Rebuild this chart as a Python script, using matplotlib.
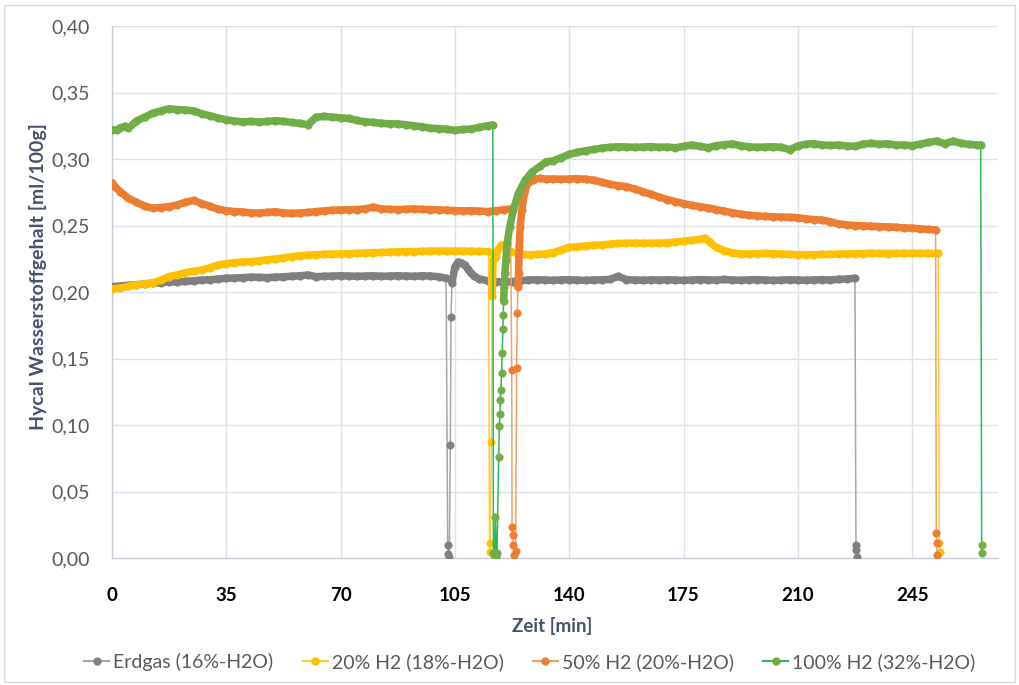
import numpy as np
import matplotlib
matplotlib.use("Agg")
import matplotlib.pyplot as plt
from matplotlib.ticker import FuncFormatter
from matplotlib.patches import Rectangle
from matplotlib.lines import Line2D

plt.rcParams['font.family'] = ['Lato', 'DejaVu Sans']

# ---------------- data ----------------
series_labels = ["Erdgas (16%-H2O)", "20% H2 (18%-H2O)", "50% H2 (20%-H2O)", "100% H2 (32%-H2O)"]

# Erdgas (16%-H2O)
t_erdgas = np.r_[np.arange(0, 101, 2.5),
                 102.3, 102.8, 103.0, 103.3, 103.6, 103.8, 104.1, 105.0, 106.0, 107.0, 108.0,
                 109.0, 110.0, 111.0, 112.5, 115.0, 117.5, 120.0, 122.5, 125.0, 127.5,
                 np.arange(130, 228, 2.5),
                 227.8, 227.9, 228.1]
y_erdgas = [0.2040, 0.2045, 0.2050, 0.2055, 0.2060, 0.2066, 0.2070, 0.2078, 0.2075, 0.2080,
            0.2085, 0.2090, 0.2092, 0.2098, 0.2103, 0.2105, 0.2108, 0.2112, 0.2110, 0.2108,
            0.2112, 0.2115, 0.2118, 0.2122, 0.2128, 0.2115, 0.2118, 0.2120, 0.2122, 0.2120,
            0.2118, 0.2120, 0.2122, 0.2118, 0.2120, 0.2122, 0.2120, 0.2118, 0.2122, 0.2120,
            0.2115,
            0.2103, 0.0098, 0.0030, 0.0010, 0.0850, 0.1810, 0.2070, 0.2190, 0.2225, 0.2220, 0.2205,
            0.2170, 0.2140, 0.2118, 0.2098, 0.2085, 0.2078, 0.2075, 0.2078, 0.2085, 0.2090,
            0.2092, 0.2090, 0.2088, 0.2091, 0.2093, 0.2089, 0.2087, 0.2090, 0.2092, 0.2095,
            0.2118, 0.2093, 0.2090, 0.2088, 0.2091, 0.2089, 0.2092, 0.2090, 0.2087, 0.2090,
            0.2093, 0.2091, 0.2089, 0.2094, 0.2090, 0.2088, 0.2091, 0.2093, 0.2090, 0.2087,
            0.2089, 0.2092, 0.2090, 0.2088, 0.2091, 0.2093, 0.2090, 0.2095, 0.2098, 0.2103,
            0.0098, 0.0060, 0.0010]

# 20% H2 (18%-H2O)
t_h2_20 = np.r_[np.arange(0, 113, 2.5),
                115.3, 115.6, 115.8, 116.2, 116.4, 116.7, 117.5, 118.3, 119.3, 120.5, 122.0,
                124.0, 126.0, 128.0,
                np.arange(130, 181, 2.5),
                181.6, 183.0,
                np.arange(185, 251, 2.5),
                253.0, 253.3, 253.5]
y_h2_20 = [0.2023, 0.2030, 0.2042, 0.2055, 0.2062, 0.2070, 0.2090, 0.2116, 0.2128, 0.2146,
           0.2155, 0.2166, 0.2182, 0.2203, 0.2214, 0.2221, 0.2225, 0.2228, 0.2235, 0.2242,
           0.2248, 0.2256, 0.2266, 0.2272, 0.2277, 0.2280, 0.2283, 0.2285, 0.2286, 0.2288,
           0.2290, 0.2292, 0.2295, 0.2297, 0.2300, 0.2302, 0.2303, 0.2304, 0.2306, 0.2307,
           0.2308, 0.2308, 0.2307, 0.2308, 0.2306, 0.2305,
           0.2304, 0.0113, 0.0048, 0.0875, 0.1970, 0.2241, 0.2260, 0.2320, 0.2354, 0.2335, 0.2305,
           0.2290, 0.2282, 0.2280,
           0.2283, 0.2285, 0.2295, 0.2315, 0.2335, 0.2341, 0.2345, 0.2350, 0.2355, 0.2360,
           0.2365, 0.2367, 0.2367, 0.2366, 0.2367, 0.2368, 0.2370, 0.2375, 0.2382, 0.2388,
           0.2395,
           0.2404, 0.2375,
           0.2335, 0.2312, 0.2295, 0.2286, 0.2285, 0.2288, 0.2290, 0.2288, 0.2285, 0.2283,
           0.2280, 0.2281, 0.2279, 0.2282, 0.2283, 0.2285, 0.2286, 0.2287, 0.2289, 0.2290,
           0.2290, 0.2289, 0.2290, 0.2290, 0.2290, 0.2290, 0.2290,
           0.2290, 0.0113, 0.0048]

# 50% H2 (20%-H2O)
t_h2_50 = np.r_[0.0, 1.0,
                np.arange(2.5, 121, 2.5),
                122.0, 122.4, 122.5, 122.7, 122.9, 123.2, 123.6, 123.9, 124.1, 124.3, 124.5,
                124.7, 125.0, 125.5, 126.3, 127.3, 129.0, 131.0, 133.0,
                np.arange(135, 251, 2.5),
                252.2, 252.4, 252.5, 252.7]
y_h2_50 = [0.2823, 0.2790,
           0.2755, 0.2705, 0.2675, 0.2645, 0.2630, 0.2635, 0.2642, 0.2655, 0.2675, 0.2688,
           0.2665, 0.2645, 0.2622, 0.2612, 0.2605, 0.2602, 0.2595, 0.2594, 0.2598, 0.2604,
           0.2595, 0.2591, 0.2594, 0.2598, 0.2605, 0.2610, 0.2615, 0.2617, 0.2618, 0.2620,
           0.2625, 0.2638, 0.2625, 0.2622, 0.2620, 0.2622, 0.2625, 0.2621, 0.2620, 0.2618,
           0.2615, 0.2612, 0.2610, 0.2612, 0.2608, 0.2605, 0.2612, 0.2618,
           0.2625, 0.1410, 0.0235, 0.0170, 0.0098, 0.0023, 0.0050, 0.1430, 0.1840, 0.2040, 0.2140,
           0.2346, 0.2490, 0.2617, 0.2745, 0.2820, 0.2845, 0.2855, 0.2848,
           0.2850, 0.2848, 0.2850, 0.2852, 0.2848, 0.2840, 0.2825, 0.2810, 0.2800, 0.2792,
           0.2775, 0.2755, 0.2735, 0.2715, 0.2695, 0.2680, 0.2665, 0.2652, 0.2642, 0.2632,
           0.2620, 0.2608, 0.2596, 0.2585, 0.2577, 0.2572, 0.2568, 0.2566, 0.2563, 0.2562,
           0.2558, 0.2550, 0.2545, 0.2540, 0.2528, 0.2512, 0.2505, 0.2500, 0.2497, 0.2494,
           0.2492, 0.2490, 0.2487, 0.2482, 0.2480, 0.2475, 0.2470,
           0.2467, 0.0188, 0.0113, 0.0023]

# 100% H2 (32%-H2O)
t_h2_100 = np.r_[0.0, 1.5, 2.5, 4.0, 5.0,
                 np.arange(7.5, 116, 2.5),
                 116.6, 116.8, 117.1, 117.4, 117.7, 117.9, 118.4, 118.6, 118.8, 118.9, 119.1,
                 119.3, 119.5, 119.7, 119.8, 119.9, 120.1, 120.3, 120.6, 121.0, 121.8, 122.9,
                 124.4, 126.5, 128.5, 131.0, 133.0,
                 np.arange(135, 266, 2.5),
                 266.0, 266.3, 266.5]
y_h2_100 = [0.3220, 0.3215, 0.3235, 0.3245, 0.3230,
            0.3285, 0.3315, 0.3345, 0.3362, 0.3378, 0.3372, 0.3368, 0.3362, 0.3340, 0.3325,
            0.3308, 0.3295, 0.3285, 0.3280, 0.3282, 0.3278, 0.3282, 0.3288, 0.3283, 0.3275,
            0.3268, 0.3258, 0.3315, 0.3320, 0.3315, 0.3310, 0.3305, 0.3290, 0.3280, 0.3275,
            0.3268, 0.3265, 0.3264, 0.3258, 0.3250, 0.3242, 0.3232, 0.3228, 0.3224, 0.3215,
            0.3222, 0.3225, 0.3238, 0.3250,
            0.3256, 0.0040, 0.0020, 0.0310, 0.0010, 0.0040, 0.0760, 0.0990, 0.1080, 0.1190, 0.1260,
            0.1390, 0.1540, 0.1720, 0.1830, 0.1930, 0.2040, 0.2140, 0.2240, 0.2370, 0.2490, 0.2620,
            0.2740, 0.2840, 0.2900, 0.2945, 0.2980,
            0.2985, 0.3010, 0.3035, 0.3050, 0.3062, 0.3072, 0.3082, 0.3088, 0.3092, 0.3090,
            0.3088, 0.3090, 0.3093, 0.3088, 0.3090, 0.3085, 0.3095, 0.3105, 0.3095, 0.3085,
            0.3100, 0.3108, 0.3113, 0.3100, 0.3092, 0.3088, 0.3090, 0.3092, 0.3088, 0.3070,
            0.3098, 0.3112, 0.3115, 0.3105, 0.3102, 0.3105, 0.3098, 0.3095, 0.3112, 0.3118,
            0.3110, 0.3115, 0.3105, 0.3105, 0.3100, 0.3112, 0.3125, 0.3135, 0.3115, 0.3135,
            0.3118, 0.3110, 0.3105,
            0.3105, 0.0098, 0.0038]

x_ticks = [0, 35, 70, 105, 140, 175, 210, 245]
y_ticks = [0.00, 0.05, 0.10, 0.15, 0.20, 0.25, 0.30, 0.35, 0.40]

# ---------------- style ----------------
marker_colors = ["#7F7F7F", "#FFC000", "#ED7D31", "#70AD47"]
line_colors = ["#A6A6A6", "#FFCC33", "#F2A06A", "#2DB85A"]
grid_color = "#DDE2EA"
axis_color = "#C8CFDB"
band_min = 0.19   # only the measuring plateau is drawn as a dense band

fig = plt.figure(figsize=(10.19, 6.85), dpi=100)
ax = fig.add_axes([112 / 1019, 1 - 558 / 685, (998 - 112) / 1019, (558 - 26) / 685])

all_t = [t_erdgas, t_h2_20, t_h2_50, t_h2_100]
all_y = [y_erdgas, y_h2_20, y_h2_50, y_h2_100]
for i, (t, y) in enumerate(zip(all_t, all_y)):
    t = np.asarray(t, dtype=float)
    y = np.asarray(y, dtype=float)
    assert len(t) == len(y), (i, len(t), len(y))
    z = 3 + 3 * i
    ax.plot(t, y, color=line_colors[i], lw=1.1, zorder=z)
    band = np.where(y > band_min, y, np.nan)
    ax.plot(t, band, color=marker_colors[i], lw=5.4, solid_capstyle='round',
            solid_joinstyle='round', zorder=z + 1)
    ax.plot(t, y, ls='none', marker='o', ms=5.3, mfc=marker_colors[i],
            mec=marker_colors[i], mew=0.5, zorder=z + 2)

ax.set_xlim(0, 271.3)
ax.set_ylim(0, 0.40)
ax.set_xticks(x_ticks)
ax.set_yticks(y_ticks)
ax.yaxis.set_major_formatter(FuncFormatter(lambda v, p: f"{v:.2f}".replace(".", ",")))
ax.tick_params(axis='both', length=0)
ax.tick_params(axis='y', pad=16, labelsize=14, labelcolor="#595959")
ax.tick_params(axis='x', pad=21, labelsize=13.5, labelcolor="#000000")
for lab in ax.get_xticklabels():
    lab.set_fontweight('bold')

ax.grid(True, color=grid_color, lw=1.0, zorder=0)
ax.set_axisbelow(True)
for side in ['top', 'right']:
    ax.spines[side].set_visible(False)
ax.spines['left'].set_color(axis_color)
ax.spines['bottom'].set_color(axis_color)
ax.spines['left'].set_linewidth(1.0)
ax.spines['bottom'].set_linewidth(1.0)

ax.set_xlabel("Zeit [min]", fontsize=13.5, fontweight='bold', color="#44546A")
ax.xaxis.set_label_coords(0.497, -(617 - 558) / 532)
ax.set_ylabel("Hycal Wasserstoffgehalt [ml/100g]", fontsize=14, fontweight='bold',
              color="#44546A")
ax.yaxis.set_label_coords(-(112 - 47) / 886, (558 - 277) / 532)

handles = [Line2D([0], [0], color=line_colors[i], lw=1.5, marker='o', ms=5,
                  mfc=marker_colors[i], mec=marker_colors[i]) for i in range(4)]
fig.legend(handles, series_labels, loc='center', bbox_to_anchor=(0.52, 1 - 662 / 685),
           ncol=4, frameon=False, fontsize=14, handlelength=1.3, handletextpad=0.2,
           columnspacing=1.5, labelcolor="#595959")

fig.patches.append(Rectangle((4 / 1019, 1 - 682 / 685), 1011 / 1019, 677 / 685,
                             transform=fig.transFigure, fill=False,
                             edgecolor="#D9D9D9", lw=1.0))

fig.savefig("out.png", dpi=100)
